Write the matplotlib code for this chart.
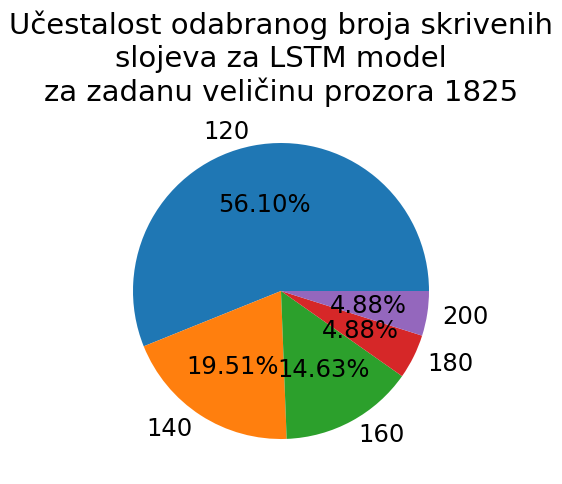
import matplotlib
matplotlib.use("Agg")
import matplotlib.pyplot as plt

labels = ["120", "140", "160", "180", "200"]
counts = [23, 8, 6, 2, 2]
title = "Učestalost odabranog broja skrivenih\nslojeva za LSTM model\nza zadanu veličinu prozora 1825"

fig = plt.figure(figsize=(5.62, 4.85), dpi=100)
ax = fig.add_axes([96/562, 8/485, 370/562, 370/485])
ax.pie(counts, labels=labels, autopct="%1.2f%%",
       textprops={"fontsize": 17.5})
ax.set_xlim(-1.25, 1.25)
ax.set_ylim(-1.25, 1.25)
ax.set_aspect("equal")
ax.set_title(title, fontsize=21, pad=2)
fig.savefig("out.png", dpi=100)
